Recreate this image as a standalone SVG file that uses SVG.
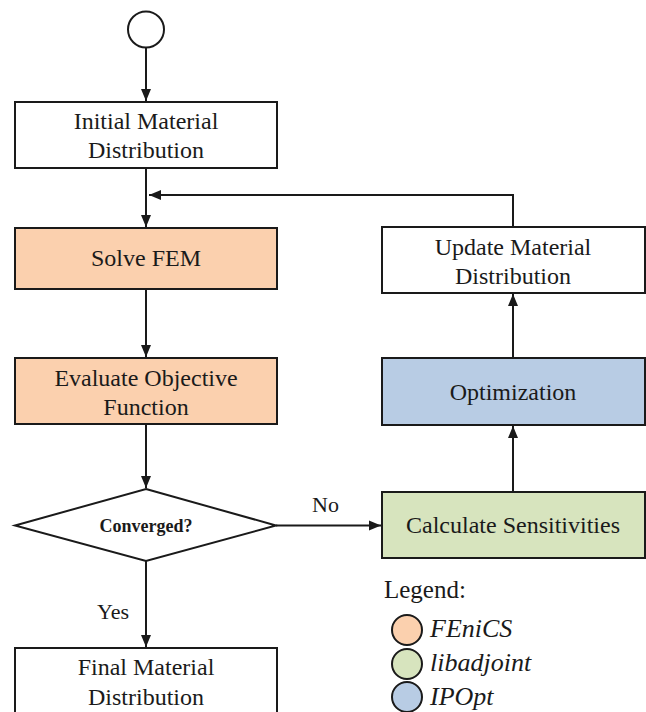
<svg xmlns="http://www.w3.org/2000/svg" width="646" height="712" viewBox="0 0 646 712">
<style>
.box{stroke:#1a1a1a;stroke-width:2;}
.t{font-family:"Liberation Serif","Times New Roman",serif;font-size:24px;fill:#1a1a1a;text-anchor:middle;}
.lbl{font-family:"Liberation Serif","Times New Roman",serif;font-size:22px;fill:#1a1a1a;}
.lg{font-family:"Liberation Serif","Times New Roman",serif;font-size:26px;fill:#1a1a1a;font-style:italic;}
.c{stroke:#1a1a1a;stroke-width:2;fill:none;}
</style>
<defs>
<marker id="ah" viewBox="0 0 12 12" refX="12" refY="6" markerWidth="12" markerHeight="12" markerUnits="userSpaceOnUse" orient="auto">
<path d="M0,1 L12,6 L0,11 Z" fill="#1a1a1a"/>
</marker>
</defs>
<rect width="646" height="712" fill="#ffffff"/>
<g id="start"><circle cx="146" cy="29.5" r="18" fill="#ffffff" class="box"/></g>
<g id="initial"><rect x="15" y="102" width="262" height="66" fill="#ffffff" class="box"/>
<text class="t" x="146" y="129">Initial Material</text><text class="t" x="146" y="158">Distribution</text></g>
<g id="solve"><rect x="15" y="228" width="262" height="61" fill="#fbd0ae" class="box"/>
<text class="t" x="146" y="266">Solve FEM</text></g>
<g id="evaluate"><rect x="15" y="358" width="262" height="66" fill="#fbd0ae" class="box"/>
<text class="t" x="146" y="386">Evaluate Objective</text><text class="t" x="146" y="415">Function</text></g>
<g id="converged"><polygon points="146,489 276,525.5 146,561 15,525.5" fill="#ffffff" class="box"/>
<text x="146" y="532" style="font-family:'Liberation Serif','Times New Roman',serif;font-size:18px;font-weight:bold;fill:#1a1a1a;text-anchor:middle">Converged?</text></g>
<g id="final"><rect x="15" y="648" width="262" height="70" fill="#ffffff" class="box"/>
<text class="t" x="146" y="675">Final Material</text><text class="t" x="146" y="705">Distribution</text></g>
<g id="calc"><rect x="382" y="492" width="263" height="66" fill="#d7e4be" class="box"/>
<text class="t" x="513" y="533">Calculate Sensitivities</text></g>
<g id="opt"><rect x="382" y="358" width="263" height="67" fill="#b8cce4" class="box"/>
<text class="t" x="513" y="400">Optimization</text></g>
<g id="update"><rect x="382" y="227" width="263" height="66" fill="#ffffff" class="box"/>
<text class="t" x="513" y="255">Update Material</text><text class="t" x="513" y="284">Distribution</text></g>
<g id="connectors">
<line class="c" x1="146" y1="47.5" x2="146" y2="101" marker-end="url(#ah)"/>
<line class="c" x1="146" y1="168" x2="146" y2="227" marker-end="url(#ah)"/>
<polyline class="c" points="513,227 513,195 149,195" marker-end="url(#ah)"/>
<line class="c" x1="146" y1="289" x2="146" y2="357" marker-end="url(#ah)"/>
<line class="c" x1="146" y1="424" x2="146" y2="488" marker-end="url(#ah)"/>
<line class="c" x1="276" y1="525.5" x2="381" y2="525.5" marker-end="url(#ah)"/>
<line class="c" x1="146" y1="561" x2="146" y2="647" marker-end="url(#ah)"/>
<line class="c" x1="513" y1="492" x2="513" y2="426" marker-end="url(#ah)"/>
<line class="c" x1="513" y1="358" x2="513" y2="294" marker-end="url(#ah)"/>
<text class="lbl" x="312" y="512">No</text>
<text class="lbl" x="97" y="619">Yes</text>
</g>
<g id="legend">
<text x="384" y="598" style="font-family:'Liberation Serif','Times New Roman',serif;font-size:25px;fill:#1a1a1a">Legend:</text>
<circle cx="407" cy="630" r="15" fill="#fbd0ae" class="box"/>
<circle cx="407" cy="664" r="15" fill="#d7e4be" class="box"/>
<circle cx="407" cy="697" r="15" fill="#b8cce4" class="box"/>
<text class="lg" x="430" y="637">FEniCS</text>
<text class="lg" x="430" y="671">libadjoint</text>
<text class="lg" x="430" y="705">IPOpt</text>
</g>
</svg>
